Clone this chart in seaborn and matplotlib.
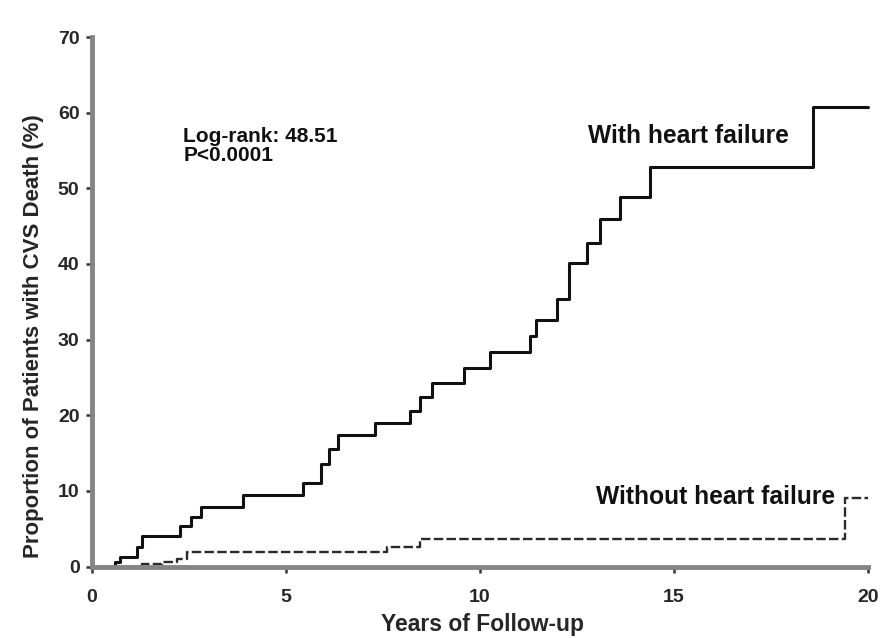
import numpy as np
import pandas as pd
import matplotlib
matplotlib.use("Agg")
import matplotlib.pyplot as plt
import seaborn as sns

# Kaplan-Meier style cumulative incidence of CVS death (%), step times in years
hf_years = [0.0, 0.6, 0.72, 1.15, 1.3, 2.27, 2.55, 2.8, 3.9, 5.44, 5.9, 6.1, 6.35,
            7.3, 8.2, 8.45, 8.75, 9.6, 10.25, 11.3, 11.45, 11.98, 12.3, 12.76,
            13.1, 13.6, 14.38, 18.58, 20.0]
hf_pct = [0.0, 0.6, 1.3, 2.6, 4.0, 5.3, 6.6, 7.8, 9.5, 11.0, 13.5, 15.5, 17.4,
          19.0, 20.6, 22.4, 24.2, 26.3, 28.4, 30.5, 32.6, 35.3, 40.1, 42.8,
          45.9, 48.9, 52.8, 60.8, 60.8]

no_hf_years = [0.0, 1.3, 1.8, 2.2, 2.45, 7.6, 8.45, 19.4, 20.0]
no_hf_pct = [0.0, 0.3, 0.6, 1.0, 1.9, 2.6, 3.6, 9.1, 9.1]

x_ticks = [0, 5, 10, 15, 20]
y_ticks = [0, 10, 20, 30, 40, 50, 60, 70]

label_hf = "With heart failure"
label_no_hf = "Without heart failure"
stat_lines = ["Log-rank: 48.51", "P<0.0001"]
x_title = "Years of Follow-up"
y_title = "Proportion of Patients with CVS Death (%)"

sns.set_style("ticks")
plt.rcParams["font.family"] = ["Liberation Sans", "DejaVu Sans"]
plt.rcParams["font.weight"] = "bold"

df_hf = pd.DataFrame({"years": hf_years, "pct": hf_pct})
df_no = pd.DataFrame({"years": no_hf_years, "pct": no_hf_pct})

fig = plt.figure(figsize=(8.9, 6.38), dpi=100)
ax = fig.add_axes([92 / 890, 1 - 566.5 / 638, (868 - 92) / 890, (566.5 - 37) / 638])

sns.lineplot(data=df_no, x="years", y="pct", ax=ax, estimator=None, sort=False,
             drawstyle="steps-post", color="#2a2a2a", linewidth=1.7,
             linestyle=(0, (4, 1.4)), clip_on=False)
sns.lineplot(data=df_hf, x="years", y="pct", ax=ax, estimator=None, sort=False,
             drawstyle="steps-post", color="#111111", linewidth=2.2,
             clip_on=False)

ax.set_xlim(0, 20)
ax.set_ylim(0, 70)
ax.set_xticks(x_ticks)
ax.set_yticks(y_ticks)
ax.set_xticklabels([str(v) for v in x_ticks], fontsize=14, fontweight="bold")
ax.set_yticklabels([str(v) for v in y_ticks], fontsize=14, fontweight="bold")
ax.tick_params(axis="both", direction="out", length=4, width=1.8,
               color="#333333")
ax.tick_params(axis="x", pad=12)
ax.tick_params(axis="y", pad=5)

for side in ("top", "right"):
    ax.spines[side].set_visible(False)
for side in ("left", "bottom"):
    ax.spines[side].set_linewidth(3.5)
    ax.spines[side].set_color("#858585")

ax.set_xlabel(x_title, fontsize=16.5, fontweight="bold")
ax.set_ylabel(y_title, fontsize=16, fontweight="bold")
ax.xaxis.set_label_coords(0.503, -0.088)
ax.yaxis.set_label_coords(-0.062, 0.435)

ax.text(2.35, 55.6, "\n".join(stat_lines), fontsize=15, fontweight="bold",
        va="center", ha="left", color="#111111", linespacing=0.95)
ax.text(12.78, 56.9, label_hf, fontsize=17.7, fontweight="bold",
        va="center", ha="left", color="#111111")
ax.text(19.15, 9.2, label_no_hf, fontsize=17.7, fontweight="bold",
        va="center", ha="right", color="#111111")

fig.savefig("out.png", dpi=100, facecolor="white")
